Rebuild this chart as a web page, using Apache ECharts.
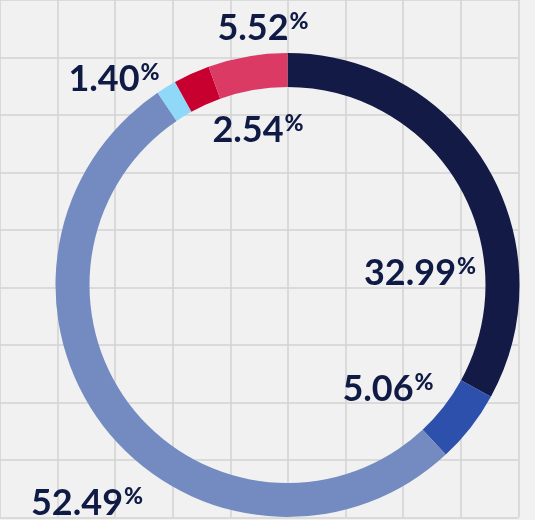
<!DOCTYPE html>
<html>
<head>
<meta charset="utf-8">
<script src="https://cdn.jsdelivr.net/npm/echarts@6/dist/echarts.min.js"></script>
<style>
  html, body { margin: 0; padding: 0; background: #f1f1f1; }
  #chart { width: 535px; height: 520px; }
</style>
</head>
<body>
<div id="chart"></div>
<script>
const segments = ['A', 'B', 'C', 'D', 'E', 'F'];
const shares = [32.99, 5.06, 52.49, 1.40, 2.54, 5.52];
const colors = ['#121a45', '#2e50ad', '#738bc1', '#8fd8f8', '#c8002f', '#db3a65'];
// where each label sits (label centre, px)
const labelSpots = [[420, 273], [388, 389], [87, 503], [114, 79], [258, 130], [263, 28]];

const chart = echarts.init(document.getElementById('chart'), null, { renderer: 'canvas' });

const hiddenAxis = {
  type: 'value',
  min: 0,
  max: 9,
  interval: 1,
  axisLine: { show: false },
  axisTick: { show: false },
  axisLabel: { show: false },
  splitLine: { show: true, lineStyle: { color: '#d2d2d2', width: 1.5 } },
};

const opts = {
  backgroundColor: '#f1f1f1',
  animation: false,
  grid: { left: 0, top: 0, width: 518.4, height: 517.5 },
  xAxis: hiddenAxis,
  yAxis: hiddenAxis,
  series: [
    {
      type: 'pie',
      center: [287.5, 285],
      radius: [198, 232],
      startAngle: 90,
      clockwise: true,
      avoidLabelOverlap: false,
      labelLine: { show: false },
      label: {
        show: true,
        position: 'outside',
        formatter: (p) => `{n|${p.value.toFixed(2)}}{p|%}`,
        rich: {
          n: {
            fontFamily: 'Lato',
            fontWeight: 700,
            fontSize: 36,
            color: '#0f1a45',
          },
          p: {
            fontFamily: 'Lato',
            fontWeight: 900,
            fontSize: 23,
            color: '#0f1a45',
            verticalAlign: 'top',
            padding: [0, 0, 12, 1],
          },
        },
      },
      labelLayout: (params) => {
        const spot = labelSpots[params.dataIndex];
        return { x: spot[0], y: spot[1], align: 'center', verticalAlign: 'middle' };
      },
      data: segments.map((name, i) => ({
        name,
        value: shares[i],
        itemStyle: { color: colors[i] },
      })),
    },
  ],
};

chart.setOption(opts);
</script>
</body>
</html>
